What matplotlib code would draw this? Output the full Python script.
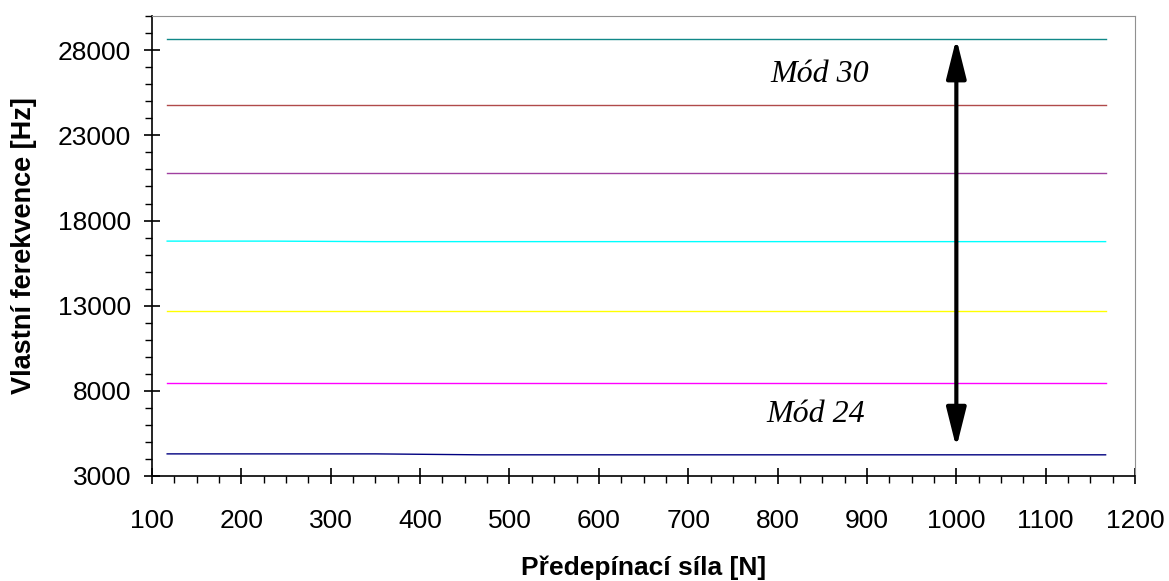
import numpy as np
import matplotlib.pyplot as plt
from matplotlib.ticker import MultipleLocator

# predepinaci sila [N]
sila = [117, 233, 350, 467, 583, 700, 817, 933, 1050, 1167]

# vlastni frekvence modu 24..30 [Hz]
mod24 = [4290, 4290, 4290, 4235, 4235, 4235, 4235, 4235, 4235, 4235]
mod25 = [8440, 8440, 8440, 8440, 8440, 8440, 8440, 8440, 8440, 8440]
mod26 = [12660, 12660, 12660, 12660, 12660, 12660, 12660, 12660, 12660, 12660]
mod27 = [16790, 16790, 16760, 16760, 16760, 16760, 16760, 16760, 16760, 16760]
mod28 = [20800, 20800, 20800, 20800, 20800, 20800, 20800, 20800, 20800, 20800]
mod29 = [24780, 24780, 24780, 24780, 24780, 24780, 24780, 24780, 24780, 24780]
mod30 = [28650, 28650, 28650, 28650, 28650, 28650, 28650, 28650, 28650, 28650]

mody = [mod24, mod25, mod26, mod27, mod28, mod29, mod30]
barvy = ['#000080', '#ff00ff', '#ffff00', '#00ffff', '#a040a0', '#b04a4a', '#108888']

plt.rcParams['font.family'] = ['Liberation Sans', 'DejaVu Sans']

fig = plt.figure(figsize=(11.69, 5.81), dpi=100)
ax = fig.add_axes([0.130, 0.181, 0.841, 0.791])

for m, c in zip(mody, barvy):
    ax.plot(sila, m, color=c, lw=1.0)

# sipka mezi mody
ax.annotate('', xy=(1000, 28700), xytext=(1000, 4650),
            arrowprops=dict(arrowstyle='<|-|>,head_length=1.2,head_width=0.3',
                            color='black', lw=3, mutation_scale=20,
                            shrinkA=0, shrinkB=0))
ax.text(847, 26600, 'Mód 30', fontsize=23, style='italic',
        family='Liberation Serif', ha='center', va='center')
ax.text(843, 6600, 'Mód 24', fontsize=23, style='italic',
        family='Liberation Serif', ha='center', va='center')

ax.set_xlim(100, 1200)
ax.set_ylim(3000, 30000)
ax.set_xticks(np.arange(100, 1201, 100))
ax.set_yticks(np.arange(3000, 28001, 5000))
ax.xaxis.set_minor_locator(MultipleLocator(25))
ax.yaxis.set_minor_locator(MultipleLocator(1000))
ax.tick_params(which='major', direction='inout', length=12, width=1.2,
               labelsize=19)
ax.tick_params(axis='x', which='major', pad=18)
ax.tick_params(axis='y', which='major', pad=9)
ax.tick_params(which='minor', direction='out', length=5, width=1)

for s in ['top', 'right']:
    ax.spines[s].set_color('#909090')
ax.spines['left'].set_linewidth(1.2)
ax.spines['bottom'].set_linewidth(1.2)

ax.set_xlabel('Předepínací síla [N]', fontsize=19, fontweight='bold', labelpad=16)
ax.set_ylabel('Vlastní ferekvence [Hz]', fontsize=19.5, fontweight='bold', labelpad=15)

fig.savefig('out.png', dpi=100)
